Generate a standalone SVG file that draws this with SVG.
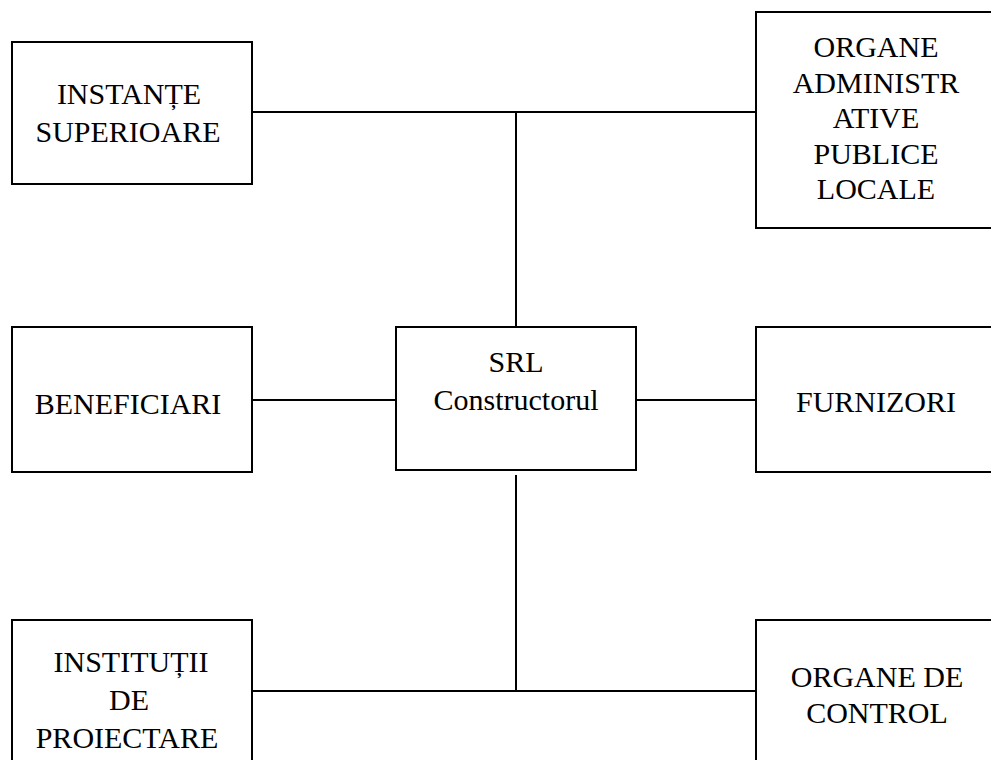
<svg xmlns="http://www.w3.org/2000/svg" width="991" height="760" viewBox="0 0 991 760">
<style>
.box{fill:#fff;stroke:#000;stroke-width:2}
.ln{stroke:#000;stroke-width:2;fill:none}
text{font-family:"Liberation Serif","Times New Roman",serif;font-size:30px;fill:#000;text-anchor:middle}
</style>
<rect width="991" height="760" fill="#fff"/>
<g id="connectors">
<line class="ln" x1="252" y1="112" x2="756" y2="112"/>
<line class="ln" x1="516" y1="112" x2="516" y2="327"/>
<line class="ln" x1="252" y1="400" x2="396" y2="400"/>
<line class="ln" x1="636" y1="400" x2="756" y2="400"/>
<line class="ln" x1="516" y1="475" x2="516" y2="691"/>
<line class="ln" x1="252" y1="691" x2="756" y2="691"/>
</g>
<g id="instante">
<rect class="box" x="12" y="42" width="240" height="142"/>
<text x="129" y="104">INSTANȚE</text>
<text x="128" y="142">SUPERIOARE</text>
</g>
<g id="organe-admin">
<rect class="box" x="756" y="12" width="240" height="216"/>
<text x="876" y="57">ORGANE</text>
<text x="876" y="93">ADMINISTR</text>
<text x="876" y="128">ATIVE</text>
<text x="876" y="164">PUBLICE</text>
<text x="876" y="199">LOCALE</text>
</g>
<g id="srl">
<rect class="box" x="396" y="327" width="240" height="143"/>
<text x="516" y="372">SRL</text>
<text x="516" y="410">Constructorul</text>
</g>
<g id="beneficiari">
<rect class="box" x="12" y="327" width="240" height="145"/>
<text x="128" y="414">BENEFICIARI</text>
</g>
<g id="furnizori">
<rect class="box" x="756" y="327" width="240" height="145"/>
<text x="876" y="412">FURNIZORI</text>
</g>
<g id="institutii">
<rect class="box" x="12" y="620" width="240" height="170"/>
<text x="131" y="672">INSTITUȚII</text>
<text x="129" y="710">DE</text>
<text x="127" y="748">PROIECTARE</text>
</g>
<g id="organe-control">
<rect class="box" x="756" y="620" width="240" height="170"/>
<text x="877" y="687">ORGANE DE</text>
<text x="877" y="723">CONTROL</text>
</g>
</svg>
